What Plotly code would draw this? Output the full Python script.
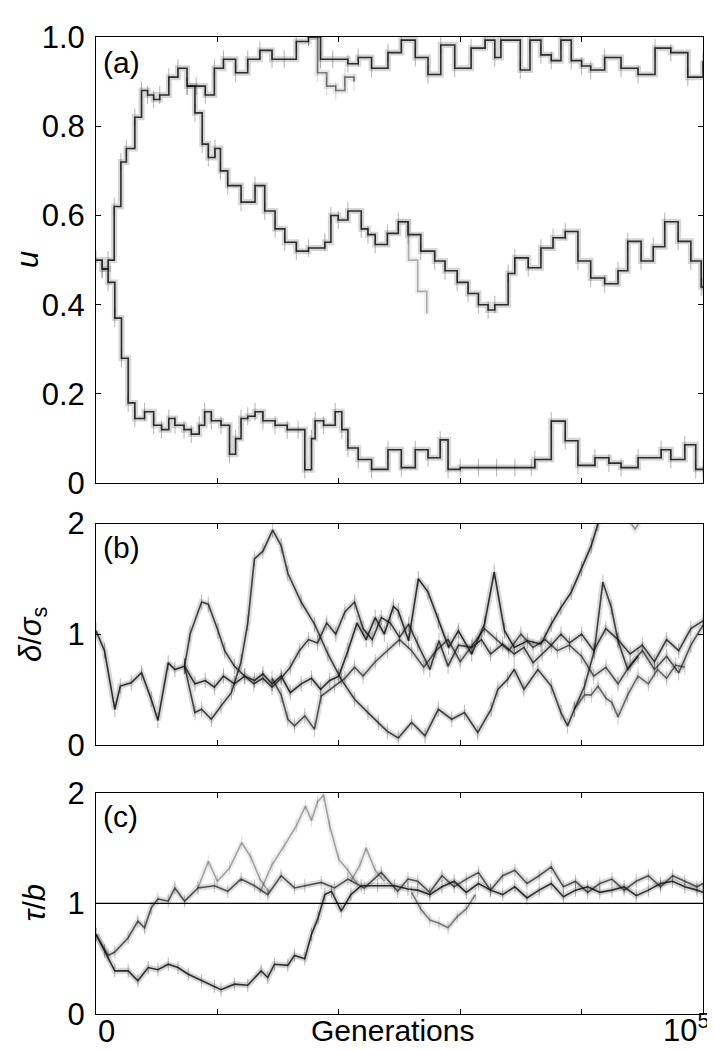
import plotly.graph_objects as go
from plotly.subplots import make_subplots

# generations are stored in thousands
# (a) trait u
a_upper_g = [0, 1, 2, 3, 4.1, 5, 6.4, 7.5, 8.5, 9.5, 10.5, 12, 13.5, 15, 16.5, 18, 19.5, 21, 23, 25,
             27, 29, 31, 33, 35, 37, 39, 41.5, 43.2, 45.4, 48.1, 50.3, 52.6, 54.7, 56.8, 59.1, 61.8, 64.1, 65.7, 66.7,
             69.9, 71.5, 73.3, 75, 76.6, 78.3, 80, 81.5, 83.8, 86.5, 89.3, 92.1, 94.7, 97.5, 100]
a_upper_u = [0.5, 0.48, 0.5, 0.62, 0.72, 0.75, 0.82, 0.88, 0.87, 0.86, 0.87, 0.91, 0.93, 0.89, 0.89, 0.87, 0.93, 0.95, 0.92, 0.95,
             0.97, 0.95, 0.95, 0.99, 1.0, 0.95, 0.95, 0.94, 0.954, 0.93, 0.965, 0.993, 0.954, 0.916, 0.982, 0.93, 0.975, 0.993, 0.954, 0.993,
             0.926, 0.993, 0.96, 0.947, 0.993, 0.947, 0.935, 0.926, 0.954, 0.93, 0.916, 0.975, 0.965, 0.91, 0.947]
a_dip_g = [35, 36.5, 38, 39.5, 41, 42.5]
a_dip_u = [1.0, 0.92, 0.89, 0.88, 0.91, 0.9]
a_mid_g = [15, 16.3, 17.5, 18.5, 19.6, 20.5, 21.7, 23.9, 26.2, 27.8, 29.5, 31.1, 33, 35, 37.7, 38.7, 39.9, 41.5, 43.7, 44.8,
           46, 48, 49.8, 51.4, 53.5, 55.8, 57.5, 59.5, 61.3, 63, 64.6, 65.7, 67.9, 69, 71.2, 73.3, 75.3, 77.3, 79.4, 81.5,
           83.8, 86, 87.6, 89.8, 91.8, 93.7, 95.9, 98, 99.7, 100]
a_mid_u = [0.89, 0.83, 0.76, 0.73, 0.75, 0.70, 0.667, 0.63, 0.667, 0.61, 0.57, 0.54, 0.52, 0.527, 0.54, 0.60, 0.59, 0.61, 0.57, 0.557,
           0.535, 0.56, 0.586, 0.557, 0.52, 0.498, 0.476, 0.45, 0.425, 0.40, 0.388, 0.40, 0.47, 0.505, 0.483, 0.527, 0.55, 0.564, 0.498, 0.46,
           0.447, 0.476, 0.542, 0.498, 0.53, 0.586, 0.542, 0.498, 0.44, 0.44]
a_faint_g = [49.8, 51.5, 53, 54.5]
a_faint_u = [0.586, 0.5, 0.43, 0.38]
a_lower_g = [1, 2, 3.1, 4.2, 5.3, 6.4, 8, 9.5, 10.8, 12, 13, 14.5, 15.7, 17, 17.9, 19, 20.6, 22, 23, 23.9,
             25, 26.2, 27.5, 29.5, 31.5, 33.3, 34.4, 35.5, 36.1, 37.5, 39.4, 40.5, 41.5, 43.2, 45.4, 48.1, 50.3, 52.6, 54.7, 56.7,
             58, 60, 63, 66, 69, 71.7, 72.3, 75, 77.3, 79.4, 82.2, 84.5, 86.5, 89.3, 93.1, 94.7, 97, 98.8, 100]
a_lower_u = [0.48, 0.45, 0.37, 0.28, 0.18, 0.145, 0.16, 0.13, 0.12, 0.145, 0.13, 0.12, 0.11, 0.13, 0.16, 0.14, 0.13, 0.065, 0.10, 0.145,
             0.15, 0.16, 0.14, 0.13, 0.12, 0.12, 0.03, 0.10, 0.14, 0.13, 0.16, 0.12, 0.079, 0.053, 0.031, 0.075, 0.035, 0.075, 0.057, 0.097,
             0.031, 0.035, 0.035, 0.035, 0.035, 0.035, 0.053, 0.139, 0.095, 0.04, 0.057, 0.045, 0.035, 0.057, 0.075, 0.053, 0.086, 0.031, 0.031]

# (b) delta / sigma_s
b1_g = [0, 1.4, 3.1, 4.0, 5.8, 7.5, 9.1, 10.2, 11.9, 13.0, 14.6, 16.3, 18.0, 19.5, 21.0, 22.8, 24.5, 26.1, 27.5, 29.0,
        30.5, 32.0, 33.8, 35.5, 37.0, 38.5, 40.0, 41.5, 43.0, 44.5, 46.0, 47.5, 49.0, 49.8, 51.5, 53.1, 54.7, 56.4, 58.1, 59.7,
        61.9, 64.0, 65.6, 67.3, 68.9, 71.1, 73.3, 75.0, 76.6, 78.3, 80.0, 81.6, 82.7]
b1_v = [1.03, 0.85, 0.32, 0.53, 0.56, 0.65, 0.41, 0.22, 0.74, 0.68, 0.71, 0.55, 0.58, 0.52, 0.62, 0.55, 0.62, 0.58, 0.64, 0.55,
        0.62, 0.47, 0.55, 0.60, 0.50, 0.58, 0.62, 0.85, 1.10, 0.95, 1.15, 1.00, 1.25, 1.21, 0.94, 1.50, 1.38, 1.12, 0.88, 1.03,
        0.82, 1.09, 1.56, 1.03, 0.88, 0.94, 0.91, 1.09, 1.24, 1.38, 1.59, 1.80, 2.0]
b2_g = [14.6, 15.5, 17.4, 18.5, 20.1, 21.2, 22.8, 24.5, 26.0, 27.5, 29.0, 30.5, 32.0, 33.5, 35.0, 36.5, 38.0, 39.5, 41.0, 42.6,
        44.0, 45.5, 47.0, 48.5, 50.0, 51.5, 53.0, 55.0, 56.5, 58.0, 59.7, 61.9, 63.5, 65.0, 67.0, 68.9, 70.5, 72.0, 73.5, 75.0,
        76.6, 78.0, 80.0, 82.0, 84.0, 86.0, 88.0, 90.0, 92.0, 94.0, 96.0, 98.0, 100.0]
b2_v = [0.71, 1.00, 1.29, 1.27, 1.03, 0.85, 0.71, 0.62, 0.55, 0.60, 0.52, 0.60, 0.70, 0.85, 0.95, 0.92, 1.10, 1.00, 1.20, 1.29,
        1.05, 0.95, 1.15, 1.10, 0.97, 1.09, 0.91, 0.68, 0.94, 0.71, 0.90, 0.88, 0.95, 0.82, 0.91, 0.82, 0.88, 0.74, 0.82, 0.90,
        1.0, 0.92, 1.0, 0.85, 1.05, 0.95, 0.82, 0.90, 0.75, 0.95, 0.85, 1.05, 1.12]
b3_g = [14.6, 16.3, 17.4, 19.0, 20.6, 22.3, 23.9, 25.0, 26.1, 27.5, 29.1, 30.5, 31.6, 33.8, 36.0, 38.2, 40.4, 42.6, 44.8, 46.5,
        48.0, 49.8, 52.0, 54.2, 56.4, 58.6, 60.7, 62.9, 65.1, 66.2, 67.8, 68.9, 70.5, 72.8, 75.0, 76.6, 77.7, 78.8, 80.5, 82.1,
        83.5, 84.9, 86.0, 87.6, 89.3]
b3_v = [0.71, 0.29, 0.32, 0.23, 0.35, 0.47, 0.75, 1.10, 1.68, 1.75, 1.94, 1.80, 1.55, 1.29, 1.09, 0.82, 0.59, 0.41, 0.29, 0.20,
        0.12, 0.06, 0.20, 0.08, 0.32, 0.23, 0.29, 0.11, 0.32, 0.50, 0.59, 0.68, 0.50, 0.68, 0.53, 0.29, 0.17, 0.32, 0.53, 0.85,
        1.47, 1.24, 0.94, 0.68, 0.80]
b4_g = [29.0, 30.5, 31.6, 32.7, 34.4, 36.0, 37.1, 39.3, 41.0, 42.6, 44, 46, 48, 50, 52, 54, 56, 58, 60, 62,
        64, 66, 68, 70, 72, 74, 76, 78, 80, 82, 84, 86, 88, 90, 92, 94, 96, 98, 100]
b4_v = [0.60, 0.45, 0.23, 0.17, 0.26, 0.14, 0.44, 0.53, 0.60, 0.70, 0.62, 0.75, 0.85, 0.95, 0.85, 0.70, 0.85, 0.95, 0.75, 0.90,
        1.05, 0.95, 0.85, 1.00, 0.88, 0.95, 0.85, 0.90, 0.80, 0.62, 0.70, 0.55, 0.72, 0.85, 0.68, 0.80, 0.65, 0.90, 1.08]
b5_g = [78.8, 80.5, 81.6, 82.7, 84.0, 85.0, 86.0, 87.6, 89.3, 91.0, 92.5, 94.0, 95.5, 97.0]
b5_v = [0.32, 0.45, 0.45, 0.53, 0.42, 0.38, 0.25, 0.45, 0.62, 0.55, 0.68, 0.60, 0.72, 0.70]
b6_g = [87.5, 88.8, 90.0]
b6_v = [2.05, 1.95, 2.05]

# (c) tau / b
c1_g = [0, 1.4, 3.1, 5.3, 6.9, 8.6, 10.2, 11.9, 13.5, 15.2, 17.4, 19.5, 20.6, 22.8, 25.0, 27.2, 28.3, 29.4, 31.6, 32.7,
        34.4, 35.5, 36.6, 37.7, 38.8, 40.4, 42.0, 43.7, 46.4, 49.2, 51.4, 53, 55, 57, 59, 61, 63, 65, 67, 69,
        71, 73, 75, 77, 79, 81, 83, 85, 87, 89, 91, 93, 95, 97, 99, 100]
c1_v = [0.72, 0.57, 0.39, 0.39, 0.30, 0.42, 0.40, 0.45, 0.42, 0.36, 0.30, 0.25, 0.22, 0.27, 0.26, 0.39, 0.33, 0.45, 0.44, 0.53,
        0.50, 0.72, 0.87, 1.08, 1.11, 0.93, 1.08, 1.16, 1.16, 1.16, 1.13, 1.12, 1.08, 1.15, 1.20, 1.10, 1.18, 1.12, 1.08, 1.15,
        1.05, 1.12, 1.18, 1.06, 1.12, 1.15, 1.10, 1.12, 1.15, 1.07, 1.12, 1.18, 1.20, 1.15, 1.12, 1.10]
c2_g = [0, 2.0, 3.1, 5.3, 6.9, 8.0, 9.1, 10.2, 11.9, 13.0, 14.6, 16.8, 19.5, 21.7, 23.9, 26.1, 28.3, 30.5, 32.7, 34.4,
        37.1, 39.3, 41.5, 44.2, 47.0, 49.7, 51.4, 53, 55, 57, 59, 61, 63, 65, 67, 69, 71, 73, 75, 77,
        79, 81, 83, 85, 87, 89, 91, 93, 95, 97, 99, 100]
c2_v = [0.72, 0.53, 0.56, 0.69, 0.84, 0.78, 0.96, 1.04, 1.02, 1.14, 1.02, 1.14, 1.16, 1.11, 1.22, 1.16, 1.08, 1.25, 1.14, 1.16,
        1.19, 1.14, 1.22, 1.14, 1.28, 1.11, 1.22, 1.20, 1.10, 1.25, 1.15, 1.22, 1.28, 1.12, 1.25, 1.30, 1.18, 1.25, 1.33, 1.15,
        1.20, 1.10, 1.18, 1.22, 1.12, 1.20, 1.25, 1.15, 1.25, 1.20, 1.15, 1.18]
c3_g = [16.8, 18.5, 20.0, 22.0, 24.0, 25.5, 27.0, 28.5]
c3_v = [1.14, 1.38, 1.20, 1.32, 1.55, 1.42, 1.22, 1.10]
c4_g = [27, 29, 31, 33, 34.5, 35.5, 36.5, 37.5, 38.5, 40, 41.5, 43]
c4_v = [1.10, 1.35, 1.52, 1.70, 1.88, 1.75, 1.92, 1.98, 1.70, 1.40, 1.30, 1.18]
c5_g = [42, 43.5, 44.5, 46, 47.5]
c5_v = [1.20, 1.35, 1.50, 1.30, 1.20]
c6_g = [52, 53.5, 55, 56.5, 58, 59.5, 61, 62.5]
c6_v = [1.10, 0.95, 0.85, 0.82, 0.78, 0.88, 0.95, 1.08]

FONT = "Liberation Sans, Arial, sans-serif"

fig = make_subplots(rows=3, cols=1)


def add_branch(g, v, row, dark=1.0, shape="linear", spike=0.0):
    x = [k * 1000 for k in g]
    fig.add_trace(go.Scatter(x=x, y=v, mode="lines", hoverinfo="skip", showlegend=False,
                             line=dict(color=f"rgba(70,70,70,{0.22 * dark:.3f})", width=6, shape=shape)),
                  row=row, col=1)
    fig.add_trace(go.Scatter(x=x, y=v, mode="lines", showlegend=False,
                             line=dict(color=f"rgba(15,15,15,{0.85 * dark:.3f})", width=1.6, shape=shape),
                             error_y=dict(type="constant", value=spike, width=0, thickness=1,
                                          color=f"rgba(0,0,0,{0.3 * dark:.3f})", visible=spike > 0)),
                  row=row, col=1)


add_branch(a_upper_g, a_upper_u, 1, 1.0, "hv", 0.02)
add_branch(a_dip_g, a_dip_u, 1, 0.6, "hv", 0.02)
add_branch(a_mid_g, a_mid_u, 1, 1.0, "hv", 0.02)
add_branch(a_faint_g, a_faint_u, 1, 0.35, "hv", 0.0)
add_branch(a_lower_g, a_lower_u, 1, 1.0, "hv", 0.02)

add_branch(b1_g, b1_v, 2, 1.0, "linear", 0.07)
add_branch(b2_g, b2_v, 2, 0.9, "linear", 0.07)
add_branch(b3_g, b3_v, 2, 0.9, "linear", 0.07)
add_branch(b4_g, b4_v, 2, 0.8, "linear", 0.07)
add_branch(b5_g, b5_v, 2, 0.7, "linear", 0.07)
add_branch(b6_g, b6_v, 2, 0.5, "linear", 0.0)

add_branch(c3_g, c3_v, 3, 0.4, "linear", 0.06)
add_branch(c4_g, c4_v, 3, 0.4, "linear", 0.06)
add_branch(c5_g, c5_v, 3, 0.4, "linear", 0.06)
add_branch(c6_g, c6_v, 3, 0.6, "linear", 0.06)
add_branch(c2_g, c2_v, 3, 0.8, "linear", 0.06)
add_branch(c1_g, c1_v, 3, 1.0, "linear", 0.06)

# reference line tau/b = 1
fig.add_shape(type="line", xref="x3 domain", yref="y3", x0=0, x1=1, y0=1, y1=1,
              line=dict(color="black", width=1.3))

axis_common = dict(showline=True, linecolor="black", linewidth=1, mirror="ticks",
                   ticks="inside", ticklen=5, tickwidth=1, tickcolor="black",
                   showgrid=False, zeroline=False)

for i in (1, 2, 3):
    fig.update_xaxes(range=[0, 100000], tickvals=[0, 20000, 40000, 60000, 80000, 100000],
                     showticklabels=False, **axis_common, row=i, col=1)

fig.update_yaxes(range=[0, 1], tickvals=[0, 0.2, 0.4, 0.6, 0.8, 1.0],
                 ticktext=["0", "0.2", "0.4", "0.6", "0.8", "1.0"], row=1, col=1, **axis_common)
fig.update_yaxes(range=[0, 2], tickvals=[0, 1, 2], ticktext=["0", "1", "2"], row=2, col=1, **axis_common)
fig.update_yaxes(range=[0, 2], tickvals=[0, 1, 2], ticktext=["0", "1", "2"], row=3, col=1, **axis_common)

fig.update_yaxes(tickfont=dict(size=31, family=FONT, color="black"), ticklabelstandoff=4)

fig.update_layout(
    width=715, height=1050,
    margin=dict(l=88, r=20, t=12, b=44),
    plot_bgcolor="white", paper_bgcolor="white",
    font=dict(family=FONT, color="black"),
    showlegend=False,
    yaxis=dict(domain=[0.5433, 1.0]),
    yaxis2=dict(domain=[0.2757, 0.5020]),
    yaxis3=dict(domain=[0.0, 0.2264]),
)

ann = []
for lab, ax in (("(a)", ""), ("(b)", "2"), ("(c)", "3")):
    ann.append(dict(text=lab, xref=f"x{ax} domain", yref=f"y{ax} domain", x=0.008,
                    y=0.985 if ax == "" else 0.975, xanchor="left", yanchor="top",
                    showarrow=False, font=dict(size=30)))
for txt, ax, xp in (("<i>u</i>", "", 19), ("<i>δ</i>/<i>σ</i><sub>s</sub>", "2", 25), ("<i>τ</i>/<i>b</i>", "3", 26)):
    ann.append(dict(text=txt, xref="paper", yref=f"y{ax} domain", x=(xp - 88) / 607, y=0.5,
                    xanchor="center", yanchor="middle", textangle=-90, showarrow=False, font=dict(size=31)))
ann.append(dict(text="0", xref="x3", yref="paper", x=0, y=-0.018, xanchor="left", yanchor="middle",
                showarrow=False, font=dict(size=31)))
ann.append(dict(text="10<sup>5</sup>", xref="paper", yref="paper", x=1.0, xshift=9, y=-0.014,
                xanchor="right", yanchor="middle", showarrow=False, font=dict(size=31)))
ann.append(dict(text="Generations", xref="paper", yref="paper", x=0.489, y=-0.017,
                xanchor="center", yanchor="middle", showarrow=False, font=dict(size=30)))
fig.update_layout(annotations=ann)

fig.write_html("out.html")
